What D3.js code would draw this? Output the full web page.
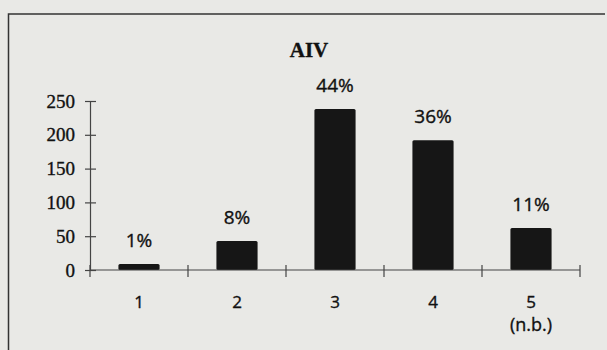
<!DOCTYPE html>
<html>
<head>
  <script src="https://cdn.jsdelivr.net/npm/d3@7"></script>
  <style>
    body { margin: 0; background: #e9e9e6; }
    text { stroke: #111; stroke-width: 0.35px; }
  </style>
</head>
<body>
  <svg width="607" height="350" id="mainsvg"></svg>
  <script>
    // data
    const categories = ['1', '2', '3', '4', '5'];
    const subLabels = ['', '', '', '', '(n.b.)'];
    const counts = [9, 43, 238, 192, 62];
    const pctLabels = ['1%', '8%', '44%', '36%', '11%'];
    const yTicks = [0, 50, 100, 150, 200, 250];

    const svg = d3.select('svg');
    const width = +svg.attr('width');
    const height = +svg.attr('height');

    svg.append('rect')
      .attr('width', width).attr('height', height)
      .attr('fill', '#e9e9e6');

    // frame of the figure
    svg.append('path')
      .attr('d', `M8.5,${height} V14 H${width - 2}`)
      .attr('fill', 'none')
      .attr('stroke', '#333')
      .attr('stroke-width', 1.5);

    const x = d3.scaleBand()
      .domain(categories)
      .range([90, 580])
      .paddingInner(0.58)
      .paddingOuter(0.29);

    const y = d3.scaleLinear()
      .domain([0, 250])
      .range([270, 101]);

    // title
    svg.append('text')
      .attr('x', 309).attr('y', 57)
      .attr('text-anchor', 'middle')
      .style('font-family', '"Liberation Serif", serif')
      .style('font-weight', 'bold')
      .style('font-size', '21px')
      .attr('fill', '#111')
      .text('AIV');

    // bars
    svg.append('g')
      .selectAll('rect')
      .data(counts)
      .join('rect')
      .attr('x', (d, i) => x(categories[i]))
      .attr('y', d => y(d))
      .attr('width', x.bandwidth())
      .attr('height', d => y(0) - y(d))
      .attr('rx', 1.5)
      .attr('fill', '#161616');

    // percentage labels
    svg.append('g')
      .selectAll('text')
      .data(counts)
      .join('text')
      .attr('x', (d, i) => x(categories[i]) + x.bandwidth() / 2)
      .attr('y', d => y(d) - 17)
      .attr('text-anchor', 'middle')
      .style('font-family', '"Open Sans", sans-serif')
      .style('font-size', '19px')
      .attr('fill', '#111')
      .text((d, i) => pctLabels[i]);

    // y axis
    const yAxis = svg.append('g')
      .attr('transform', 'translate(90,0)')
      .call(d3.axisLeft(y).tickValues(yTicks).tickSize(0).tickPadding(15));
    yAxis.select('.domain').attr('stroke', '#444').attr('stroke-width', 1.2);
    yAxis.selectAll('.tick line').clone()
      .attr('x1', -5).attr('x2', 6)
      .attr('stroke', '#444').attr('stroke-width', 1.2);
    yAxis.selectAll('text')
      .style('font-family', '"Liberation Serif", serif')
      .style('font-size', '19px')
      .attr('fill', '#111');

    // x axis: ticks at band edges
    const edges = categories.map(c => x(c) - x.step() * x.paddingInner() / 2);
    edges.push(580);
    const xAxis = svg.append('g');
    xAxis.append('line')
      .attr('x1', 90).attr('x2', 580)
      .attr('y1', y(0)).attr('y2', y(0))
      .attr('stroke', '#444').attr('stroke-width', 1.2);
    xAxis.selectAll('.xtick')
      .data(edges)
      .join('line')
      .attr('class', 'xtick')
      .attr('x1', d => d).attr('x2', d => d)
      .attr('y1', y(0) - 5).attr('y2', y(0) + 7)
      .attr('stroke', '#444').attr('stroke-width', 1.2);

    xAxis.selectAll('.xlab')
      .data(categories)
      .join('text')
      .attr('class', 'xlab')
      .attr('x', d => x(d) + x.bandwidth() / 2)
      .attr('y', 308)
      .attr('text-anchor', 'middle')
      .style('font-family', '"Open Sans", sans-serif')
      .style('font-size', '17px')
      .attr('fill', '#111')
      .text(d => d);

    xAxis.selectAll('.xsub')
      .data(subLabels)
      .join('text')
      .attr('class', 'xsub')
      .attr('x', (d, i) => x(categories[i]) + x.bandwidth() / 2)
      .attr('y', 331)
      .attr('text-anchor', 'middle')
      .style('font-family', '"Open Sans", sans-serif')
      .style('font-size', '18px')
      .attr('fill', '#111')
      .text(d => d);
  </script>
</body>
</html>
